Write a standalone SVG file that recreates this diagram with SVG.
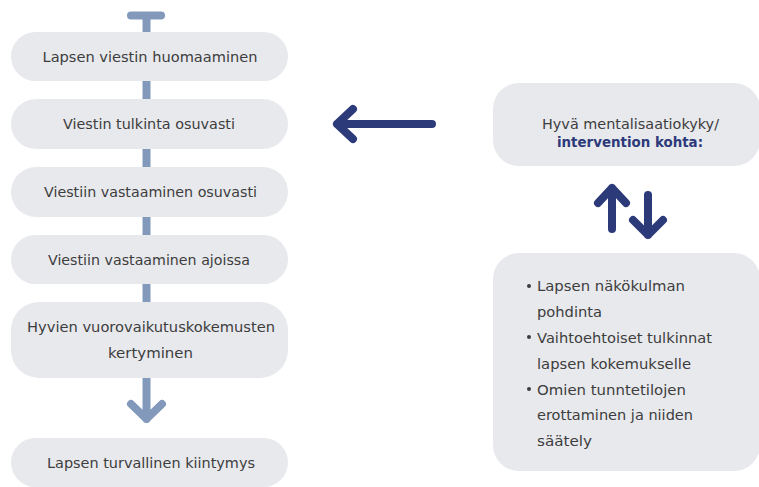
<svg xmlns="http://www.w3.org/2000/svg" width="759" height="487" viewBox="0 0 759 487">
<style>
.box{fill:#e8e9ed}
.t{font-family:"DejaVu Sans","Open Sans",sans-serif;font-size:13.5px;fill:#3d3d3d}
.c{text-anchor:middle}
.b{font-weight:bold;fill:#2c3a7a}
.lt{fill:none;stroke:#8399bb;stroke-width:8;stroke-linecap:butt}
.lr{fill:none;stroke:#8399bb;stroke-width:8;stroke-linecap:round;stroke-linejoin:round}
.nv{fill:none;stroke:#2c3a7a;stroke-width:8;stroke-linecap:round;stroke-linejoin:round}
.dot{fill:#3d3d3d}
</style>
<rect width="759" height="487" fill="#ffffff"/>
<g id="connectors">
<line class="lr" x1="131" y1="15.5" x2="161" y2="15.5" stroke-width="7.5"/>
<line class="lt" x1="146.5" y1="15" x2="146.5" y2="32"/>
<line class="lt" x1="146.5" y1="81" x2="146.5" y2="99"/>
<line class="lt" x1="146.5" y1="149" x2="146.5" y2="167"/>
<line class="lt" x1="146.5" y1="217" x2="146.5" y2="235"/>
<line class="lt" x1="146.5" y1="284" x2="146.5" y2="302"/>
<path class="lr" d="M146.5,378 L146.5,419 M131,404 L146.5,419 L162,404"/>
<path class="nv" d="M432,124 L337,124 M353,109 L337,124 L353,139"/>
<path class="nv" d="M612,229 L612,188 M598,203 L612,188 L626,203"/>
<path class="nv" d="M648,195 L648,235 M633,220 L648,235 L663,220"/>
</g>
<g id="n1"><rect class="box" x="11" y="32" width="277" height="49" rx="24.5"/><text class="t c" x="150" y="61.5" textLength="215" lengthAdjust="spacingAndGlyphs">Lapsen viestin huomaaminen</text></g>
<g id="n2"><rect class="box" x="11" y="99" width="277" height="50" rx="25"/><text class="t c" x="149" y="128.5" textLength="172" lengthAdjust="spacingAndGlyphs">Viestin tulkinta osuvasti</text></g>
<g id="n3"><rect class="box" x="11" y="167" width="277" height="50" rx="25"/><text class="t c" x="150.5" y="196.5" textLength="213" lengthAdjust="spacingAndGlyphs">Viestiin vastaaminen osuvasti</text></g>
<g id="n4"><rect class="box" x="11" y="235" width="277" height="49" rx="24.5"/><text class="t c" x="149" y="264.5" textLength="202" lengthAdjust="spacingAndGlyphs">Viestiin vastaaminen ajoissa</text></g>
<g id="n5"><rect class="box" x="11" y="302" width="277" height="76" rx="28"/><text class="t c" x="151" y="331.5" textLength="248" lengthAdjust="spacingAndGlyphs">Hyvien vuorovaikutuskokemusten</text><text class="t c" x="150.5" y="357.5" textLength="85" lengthAdjust="spacingAndGlyphs">kertyminen</text></g>
<g id="n6"><rect class="box" x="11" y="438" width="277" height="49" rx="24.5"/><text class="t c" x="151" y="467.5" textLength="208" lengthAdjust="spacingAndGlyphs">Lapsen turvallinen kiintymys</text></g>
<g id="n7"><rect class="box" x="493" y="83" width="267" height="83" rx="26"/><text class="t c" x="630.5" y="128.5" textLength="177" lengthAdjust="spacingAndGlyphs">Hyvä mentalisaatiokyky/</text><text class="t c b" x="630" y="146.5" textLength="146" lengthAdjust="spacingAndGlyphs">intervention kohta:</text></g>
<g id="n8"><rect class="box" x="493" y="253" width="267" height="218" rx="26"/>
<circle class="dot" cx="529" cy="286" r="2"/><circle class="dot" cx="529" cy="337" r="2"/><circle class="dot" cx="529" cy="389" r="2"/>
<text class="t" x="537" y="290.5" textLength="148" lengthAdjust="spacingAndGlyphs">Lapsen näkökulman</text>
<text class="t" x="537" y="316.5" textLength="65" lengthAdjust="spacingAndGlyphs">pohdinta</text>
<text class="t" x="537" y="342.5" textLength="175" lengthAdjust="spacingAndGlyphs">Vaihtoehtoiset tulkinnat</text>
<text class="t" x="537" y="368.5" textLength="154" lengthAdjust="spacingAndGlyphs">lapsen kokemukselle</text>
<text class="t" x="537" y="394.5" textLength="149" lengthAdjust="spacingAndGlyphs">Omien tunntetilojen</text>
<text class="t" x="537" y="419.5" textLength="156" lengthAdjust="spacingAndGlyphs">erottaminen ja niiden</text>
<text class="t" x="537" y="445.5" textLength="55" lengthAdjust="spacingAndGlyphs">säätely</text>
</g>
</svg>
